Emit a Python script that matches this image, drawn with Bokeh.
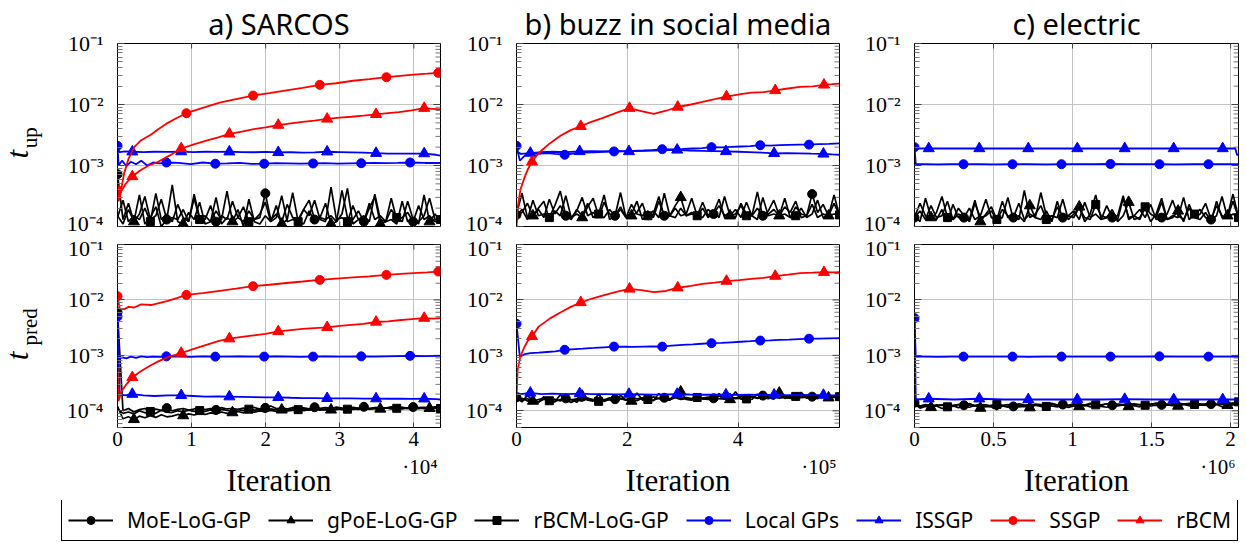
import numpy as np
from bokeh.plotting import figure
from bokeh.layouts import column, row
from bokeh.models import (FixedTicker, CustomJSTickFormatter, Label,
                          Legend, LegendItem, Range1d)
from bokeh.embed import file_html
from bokeh.resources import INLINE

# ------------------------------------------------------------------ data
# dataset sizes (x-axis range, iterations)
XMAX = [43600, 583000, 2050000]
TITLES = ["a) SARCOS", "b) buzz in social media", "c) electric"]
XTICKS = [[0, 10000, 20000, 30000, 40000], [0, 200000, 400000],
          [0, 500000, 1000000, 1500000, 2000000]]
XSCALE = [1e4, 1e5, 1e6]
XSCALE_LABEL = ["\u00b710\u2074", "\u00b710\u2075", "\u00b710\u2076"]
YTICKS = [1e-4, 1e-3, 1e-2, 1e-1]
XLABEL = "Iteration"
YLABEL_SUB = ["up", "pred"]

MS = 1e-3     # colored series listed in milliseconds
TMS = 1e-4    # black series listed in units of 0.1 ms

# ---------- a) SARCOS
ssgp_a_x = [0, 300, 900, 1500, 2250, 3200, 4500, 5600, 6800, 8000, 9300, 11500, 13800, 16000,
            18300, 20500, 22800, 25000, 27300, 29500, 31800, 34000, 36300, 38200, 40000, 41800,
            43300, 43600]
ssgp_a_up = [0.40, 0.30, 0.75, 1.30, 2.0, 2.6, 3.2, 4.0, 5.0, 6.0, 7.2, 8.8, 10.7, 12.2, 14.0,
             15.3, 17.0, 18.8, 21.0, 22.3, 24.5, 26.0, 28.0, 29.5, 31.0, 32.0, 33.0, 33.5]
ssgp_a_pred = [11.7, 7.0, 6.8, 7.5, 7.3, 8.3, 8.1, 8.8, 9.6, 10.8, 12.3, 13.3, 14.6, 16.0, 17.7,
               18.8, 20.2, 21.5, 23.0, 24.2, 25.5, 26.6, 28.3, 29.4, 30.5, 31.4, 32.5, 32.7]
ssgp_a_marks = [0, 10, 14, 18, 22, 26]

rbcm_a_x = [0, 150, 500, 1200, 2000, 3000, 4200, 5500, 7000, 8600, 10200, 12000, 13600, 15100,
            16800, 18400, 20000, 21700, 23400, 25000, 26600, 28300, 30000, 31600, 33200, 34900,
            36500, 38000, 39700, 41400, 42600, 43600]
rbcm_a_up = [0.35, 0.26, 0.38, 0.52, 0.66, 0.82, 1.0, 1.15, 1.45, 1.9, 2.2, 2.55, 2.9, 3.3, 3.6,
             3.95, 4.2, 4.6, 4.9, 5.2, 5.45, 5.8, 6.1, 6.3, 6.55, 6.9, 7.2, 7.5, 8.0, 8.7, 8.5, 8.3]
rbcm_a_pred = [0.6, 0.15, 0.22, 0.3, 0.4, 0.5, 0.63, 0.78, 0.95, 1.1, 1.3, 1.55, 1.8, 2.0, 2.15,
               2.3, 2.45, 2.7, 2.85, 3.0, 3.1, 3.2, 3.4, 3.55, 3.7, 4.0, 4.1, 4.3, 4.5, 4.7, 4.6, 4.7]
rbcm_a_marks = [4, 9, 13, 17, 21, 25, 29]

lgp_a_x = [0, 150, 600, 1200, 1800, 2500, 3200, 4000, 4800, 5700, 6600, 8200, 9900, 11500, 13200,
           14800, 16500, 18100, 19800, 21400, 23000, 24700, 26400, 28000, 29700, 31300, 32900,
           34600, 36200, 37800, 39500, 41500, 43600]
lgp_a_up = [2.1, 1.0, 1.2, 0.98, 1.15, 1.05, 1.2, 1.0, 1.12, 1.08, 1.12, 1.1, 1.05, 1.12, 1.07,
            1.08, 1.1, 1.06, 1.07, 1.09, 1.08, 1.07, 1.08, 1.09, 1.07, 1.08, 1.09, 1.1, 1.09, 1.1,
            1.12, 1.1, 1.1]
lgp_a_pred = [5.0, 0.85, 0.92, 0.88, 0.95, 0.9, 0.96, 0.93, 0.95, 0.94, 0.96, 0.95, 0.94, 0.96,
              0.95, 0.95, 0.96, 0.95, 0.95, 0.96, 0.95, 0.94, 0.95, 0.96, 0.95, 0.95, 0.96, 0.95,
              0.96, 0.97, 0.98, 0.97, 0.98]
lgp_a_marks = [0, 10, 14, 18, 22, 26, 30]

issgp_a_x = [0, 300, 1000, 2000, 3500, 5000, 6800, 8600, 10200, 11900, 13500, 15100, 16800, 18400,
             20100, 21700, 23400, 25000, 26600, 28300, 30000, 31600, 33200, 34900, 36500, 38200,
             39800, 41400, 43000, 43600]
issgp_a_up = [1.9, 1.65, 1.7, 1.68, 1.66, 1.68, 1.67, 1.69, 1.66, 1.68, 1.67, 1.68, 1.66, 1.65,
              1.67, 1.64, 1.65, 1.63, 1.64, 1.68, 1.66, 1.64, 1.62, 1.59, 1.57, 1.56, 1.57, 1.57,
              1.5, 1.45]
issgp_a_pred = [4.6, 0.2, 0.19, 0.2, 0.19, 0.185, 0.19, 0.19, 0.185, 0.18, 0.182, 0.18, 0.178,
                0.176, 0.175, 0.175, 0.172, 0.17, 0.17, 0.168, 0.168, 0.167, 0.166, 0.166, 0.165,
                0.165, 0.164, 0.165, 0.162, 0.16]
issgp_a_marks = [3, 7, 11, 15, 19, 23, 27]

moe_a_up = [7.2, 1.3, 2.4, 1.2, 1.6, 3.1, 1.3, 1.5, 2.8, 1.3,
            1.4, 1.3, 1.9, 1.2, 3.4, 1.4, 1.3, 2.2, 1.2, 1.5,
            1.3, 2.6, 1.4, 1.2, 1.8, 1.3, 1.4, 3.5, 1.3, 1.6,
            1.2, 2.3, 1.4, 1.3, 1.9, 2.7, 1.3, 1.4, 1.3, 1.5,
            1.2, 3.9, 1.4, 1.3, 1.8, 1.2, 2.4, 1.3, 1.5, 1.2,
            2.9, 1.3, 1.4, 1.7, 1.2, 2.2, 1.3, 1.5, 1.2, 1.3]
gpoe_a_up = [1.5, 1.1, 1.9, 1.2, 3.3, 1.1, 1.4, 2.1, 1.0, 1.3,
             4.8, 1.2, 1.1, 1.7, 1.3, 2.5, 1.1, 1.2, 3.0, 1.1,
             1.4, 1.2, 1.9, 1.0, 2.8, 1.2, 1.1, 1.5, 1.2, 2.2,
             1.1, 1.3, 3.6, 1.2, 1.1, 1.8, 1.2, 1.4, 2.4, 1.1,
             1.2, 1.6, 4.2, 1.1, 1.3, 1.2, 2.0, 3.1, 1.1, 1.2,
             1.3, 1.1, 2.6, 1.2, 1.4, 1.1, 3.3, 1.2, 1.6, 1.2]
rbcmlog_a_up = [1.4, 2.7, 1.2, 1.5, 1.3, 2.0, 1.2, 3.5, 1.3, 1.6,
                1.2, 2.3, 1.4, 1.2, 2.9, 1.3, 1.5, 1.2, 1.8, 1.3,
                3.8, 1.2, 1.4, 2.1, 1.2, 1.3, 1.6, 2.5, 1.2, 1.4,
                3.2, 1.2, 1.3, 1.2, 1.9, 1.5, 2.7, 1.3, 1.2, 4.4,
                1.3, 1.4, 1.2, 2.2, 1.3, 1.5, 1.2, 3.4, 1.3, 1.2,
                1.9, 1.4, 1.2, 2.6, 1.3, 1.2, 1.5, 2.9, 1.3, 1.3]
moe_a_pred = [60, 1.0, 1.1, 0.95, 1.05, 1.1, 0.98, 1.08, 1.02, 1.12,
              1.0, 1.06, 1.1, 1.03, 1.08, 1.12, 1.05, 1.1, 1.04, 1.14,
              1.08, 1.1, 1.06, 1.12, 1.09, 1.15, 1.07, 1.13, 1.22, 1.1,
              1.12, 1.08, 1.15, 1.1, 1.13, 1.09, 1.16, 1.11, 1.14, 1.1,
              1.17, 1.12, 1.1, 1.15, 1.12, 1.18, 1.11, 1.14, 1.16, 1.12,
              1.18, 1.13, 1.15, 1.12, 1.17, 1.14, 1.16, 1.13, 1.18, 1.15]
gpoe_a_pred = [1.2, 0.72, 0.78, 0.7, 0.8, 0.75, 0.82, 0.76, 0.85, 0.78,
               0.8, 0.86, 0.82, 0.88, 0.84, 0.9, 0.86, 0.92, 0.88, 0.95,
               0.9, 0.93, 0.97, 0.92, 0.98, 0.95, 1.0, 0.96, 1.02, 0.98,
               1.04, 1.0, 1.02, 1.06, 1.01, 1.05, 1.08, 1.03, 1.07, 1.04,
               1.09, 1.05, 1.1, 1.06, 1.08, 1.12, 1.07, 1.1, 1.08, 1.13,
               1.09, 1.11, 1.14, 1.1, 1.12, 1.09, 1.13, 1.11, 1.14, 1.12]
rbcmlog_a_pred = [1.1, 0.9, 0.95, 0.88, 1.0, 0.92, 0.97, 0.9, 1.02, 0.95,
                  0.93, 1.0, 0.96, 1.03, 0.98, 1.01, 0.97, 1.04, 1.0, 1.06,
                  1.02, 0.99, 1.05, 1.01, 1.07, 1.03, 1.05, 1.0, 1.08, 1.04,
                  1.06, 1.02, 1.09, 1.05, 1.07, 1.03, 1.1, 1.06, 1.04, 1.08,
                  1.05, 1.11, 1.07, 1.09, 1.06, 1.12, 1.08, 1.1, 1.07, 1.13,
                  1.09, 1.11, 1.08, 1.12, 1.1, 1.13, 1.09, 1.12, 1.1, 1.1]

# ---------- b) buzz in social media
rbcm_b_x = [0, 2000, 7000, 14000, 20000, 28000, 40000, 60000, 80000, 98000, 116000, 135000,
            155000, 180000, 204000, 225000, 248000, 270000, 291000, 315000, 336000, 358000,
            379000, 402000, 424000, 446000, 467000, 490000, 512000, 535000, 555000, 570000, 583000]
rbcm_b_up = [0.09, 0.2, 0.4, 0.62, 0.85, 1.15, 1.6, 2.3, 3.1, 3.8, 4.4, 5.2, 6.0, 7.3, 8.7, 7.8,
             7.0, 7.9, 9.1, 10.0, 11.0, 12.2, 13.5, 14.6, 15.6, 16.0, 17.0, 18.3, 19.5, 19.8,
             21.0, 21.5, 22.0]
rbcm_b_pred = [0.17, 0.55, 0.95, 1.4, 1.8, 2.2, 3.3, 4.6, 6.0, 7.5, 9.0, 10.5, 12.0, 14.0, 15.8,
               15.0, 13.8, 14.5, 16.6, 18.0, 19.5, 20.5, 21.9, 22.8, 24.0, 25.0, 26.9, 28.5, 30.5,
               31.0, 31.6, 31.5, 31.6]
rbcm_b_marks = [5, 10, 14, 18, 22, 26, 30]

lgp_b_x = [0, 6000, 15000, 25000, 40000, 55000, 70000, 87000, 105000, 120000, 140000, 158000,
           176000, 195000, 210000, 230000, 245000, 263000, 280000, 300000, 318000, 335000, 352000,
           370000, 388000, 405000, 422000, 440000, 458000, 475000, 492000, 510000, 528000, 546000,
           564000, 583000]
lgp_b_up = [2.1, 1.2, 1.45, 1.6, 1.55, 1.6, 1.55, 1.5, 1.58, 1.62, 1.65, 1.68, 1.7, 1.72, 1.74,
            1.76, 1.78, 1.85, 1.84, 1.87, 1.9, 1.93, 2.0, 1.98, 2.02, 2.05, 2.08, 2.15, 2.12, 2.16,
            2.18, 2.2, 2.2, 2.24, 2.26, 2.3]
lgp_b_pred = [3.7, 0.95, 1.05, 1.1, 1.12, 1.15, 1.18, 1.26, 1.3, 1.32, 1.36, 1.4, 1.44, 1.43,
              1.42, 1.44, 1.45, 1.44, 1.5, 1.55, 1.58, 1.62, 1.66, 1.68, 1.72, 1.76, 1.8, 1.85,
              1.86, 1.9, 1.92, 1.96, 2.0, 2.0, 2.03, 2.05]
lgp_b_marks = [0, 7, 12, 17, 22, 27, 32]

issgp_b_x = [0, 8000, 25000, 45000, 65000, 90000, 114000, 135000, 160000, 180000, 203000, 225000,
             248000, 270000, 290000, 312000, 335000, 356000, 378000, 400000, 420000, 443000,
             465000, 488000, 510000, 532000, 554000, 570000, 583000]
issgp_b_up = [1.7, 1.55, 1.6, 1.65, 1.68, 1.66, 1.7, 1.72, 1.7, 1.73, 1.7, 1.74, 1.76, 1.78, 1.8,
              1.76, 1.74, 1.72, 1.7, 1.68, 1.66, 1.62, 1.58, 1.6, 1.58, 1.56, 1.55, 1.52, 1.5]
issgp_b_pred = [0.21, 0.2, 0.21, 0.2, 0.205, 0.2, 0.205, 0.2, 0.2, 0.198, 0.2, 0.198, 0.196,
                0.198, 0.2, 0.197, 0.195, 0.196, 0.195, 0.194, 0.195, 0.193, 0.194, 0.192, 0.193,
                0.192, 0.192, 0.19, 0.19]
issgp_b_marks = [2, 6, 10, 14, 18, 22, 26]

moe_b_up = [1.55, 1.7, 2.4, 1.5, 1.9, 1.4, 2.8, 1.6, 2.2, 1.5,
            1.4, 1.8, 3.0, 1.5, 1.7, 1.4, 2.5, 1.6, 1.5, 1.9,
            1.4, 2.3, 1.6, 1.5, 1.8, 1.4, 2.6, 1.5, 1.5, 2.0,
            1.5, 1.6, 2.9, 1.5, 1.4, 1.9, 1.6, 2.2, 1.5, 1.7,
            1.4, 2.4, 1.6, 1.5, 2.0, 1.5, 1.8, 2.7, 1.5, 1.6,
            1.4, 2.1, 1.6, 1.5, 3.4, 1.7, 2.3, 1.5, 1.6, 1.6]
gpoe_b_up = [1.6, 3.5, 1.4, 1.5, 2.0, 2.6, 1.3, 1.8, 1.5, 3.2,
             1.4, 1.6, 1.4, 2.1, 2.9, 1.5, 1.4, 1.9, 1.5, 3.6,
             1.4, 1.5, 1.7, 2.4, 1.3, 1.6, 3.1, 1.4, 1.5, 2.2,
             3.0, 1.5, 1.6, 1.5, 2.0, 1.4, 1.7, 2.8, 1.4, 1.5,
             1.9, 1.4, 2.5, 1.5, 1.3, 3.0, 1.5, 1.6, 1.5, 2.1,
             1.7, 2.6, 1.4, 1.5, 2.3, 1.4, 1.6, 1.5, 3.3, 1.5]
rbcmlog_b_up = [1.5, 1.9, 1.3, 2.7, 1.5, 1.6, 1.4, 2.2, 3.8, 1.5,
                1.3, 1.9, 1.5, 2.4, 1.4, 1.6, 3.3, 1.3, 1.5, 2.1,
                1.4, 1.6, 2.6, 1.3, 1.5, 1.8, 1.4, 3.5, 1.5, 1.4,
                2.0, 1.5, 1.7, 1.5, 2.5, 1.5, 1.8, 1.4, 3.1, 1.5,
                1.6, 2.2, 1.5, 1.5, 3.7, 1.4, 1.6, 1.9, 1.5, 2.9,
                1.4, 1.5, 2.0, 1.4, 1.6, 2.7, 1.4, 1.5, 2.4, 1.55]
moe_b_pred = [1.75, 1.55, 1.65, 1.5, 1.6, 1.7, 1.55, 1.62, 1.5, 1.68,
              1.58, 1.64, 1.55, 1.7, 1.6, 1.66, 1.57, 1.72, 1.62, 1.68,
              1.6, 1.75, 1.64, 1.7, 1.62, 1.78, 1.66, 1.72, 1.64, 1.8,
              1.68, 1.74, 1.66, 1.82, 1.7, 1.76, 1.68, 1.85, 1.72, 1.78,
              1.7, 1.84, 1.74, 1.8, 1.72, 1.88, 1.76, 1.82, 1.74, 1.86,
              1.78, 1.84, 1.76, 1.9, 1.8, 1.85, 1.78, 1.88, 1.82, 1.8]
gpoe_b_pred = [1.7, 1.45, 1.9, 1.5, 1.4, 1.8, 1.55, 1.45, 1.95, 1.5,
               1.6, 1.42, 1.85, 1.55, 1.5, 2.0, 1.48, 1.62, 1.5, 1.9,
               1.55, 1.5, 2.1, 1.56, 1.65, 1.52, 2.05, 1.6, 1.55, 1.95,
               2.2, 1.6, 1.55, 1.98, 1.62, 1.7, 1.56, 2.05, 1.64, 1.6,
               2.2, 1.62, 1.7, 1.6, 2.0, 1.66, 1.75, 1.62, 2.1, 1.68,
               1.72, 1.65, 2.15, 1.7, 1.75, 1.66, 2.05, 1.72, 1.75, 1.75]
rbcmlog_b_pred = [1.6, 1.68, 1.5, 1.58, 1.45, 1.62, 1.52, 1.48, 1.6, 1.55,
                  1.42, 1.58, 1.5, 1.65, 1.55, 1.48, 1.6, 1.58, 1.5, 1.66,
                  1.56, 1.62, 1.52, 1.7, 1.6, 1.55, 1.68, 1.62, 1.58, 1.72,
                  1.6, 1.65, 1.58, 1.74, 1.64, 1.6, 1.7, 1.66, 1.62, 1.76,
                  1.66, 1.7, 1.64, 1.8, 1.68, 1.72, 1.66, 1.78, 1.7, 1.74,
                  1.68, 1.82, 1.72, 1.76, 1.7, 1.8, 1.74, 1.78, 1.76, 1.8]

# ---------- c) electric
lgp_c_x = [0, 8000, 60000, 150000, 230000, 310000, 400000, 500000, 620000, 720000, 830000,
           930000, 1030000, 1140000, 1240000, 1340000, 1450000, 1550000, 1650000, 1760000,
           1860000, 1960000, 2050000]
lgp_c_up = [2.0, 1.05, 1.05, 1.04, 1.05, 1.05, 1.05, 1.04, 1.05, 1.05, 1.04, 1.05, 1.05, 1.05,
            1.06, 1.05, 1.05, 1.05, 1.04, 1.05, 1.05, 1.05, 1.05]
lgp_c_pred = [4.7, 0.95, 0.95, 0.94, 0.95, 0.95, 0.95, 0.95, 0.95, 0.94, 0.95, 0.95, 0.95, 0.95,
              0.95, 0.95, 0.95, 0.96, 0.95, 0.95, 0.95, 0.95, 0.95]
lgp_c_marks = [0, 5, 8, 11, 14, 17, 20]

issgp_c_x = [0, 8000, 90000, 250000, 410000, 560000, 720000, 870000, 1030000, 1180000, 1330000,
             1490000, 1640000, 1800000, 1950000, 2030000, 2040000, 2050000]
issgp_c_up = [1.95, 1.9, 1.9, 1.9, 1.9, 1.9, 1.9, 1.9, 1.9, 1.9, 1.9, 1.9, 1.9, 1.9, 1.9, 1.9,
              1.5, 1.5]
issgp_c_pred = [4.7, 0.16, 0.165, 0.16, 0.165, 0.16, 0.16, 0.16, 0.16, 0.16, 0.162, 0.16, 0.16,
                0.16, 0.16, 0.16, 0.16, 0.16]
issgp_c_marks = [2, 4, 6, 8, 10, 12, 14]

moe_c_up = [1.4, 1.8, 1.3, 2.2, 1.4, 1.5, 2.6, 1.3, 1.6, 1.4,
            2.0, 1.3, 1.5, 2.8, 1.4, 1.3, 1.9, 1.5, 1.4, 2.4,
            1.3, 1.6, 1.4, 3.6, 1.5, 1.3, 2.1, 1.4, 1.5, 1.8,
            1.3, 2.5, 1.4, 1.6, 1.3, 2.2, 1.4, 1.5, 3.2, 1.3,
            1.5, 1.9, 1.4, 2.3, 1.3, 1.4, 1.6, 2.7, 1.5, 1.3,
            2.0, 1.4, 1.6, 2.4, 1.3, 1.5, 3.1, 1.4, 1.6, 1.4]
gpoe_c_up = [1.5, 1.2, 2.9, 1.4, 1.3, 1.9, 1.2, 2.3, 1.4, 1.5,
             1.3, 2.7, 1.2, 1.6, 2.1, 1.3, 1.4, 3.0, 1.3, 1.5,
             1.2, 2.2, 1.4, 1.3, 1.8, 1.2, 2.6, 1.3, 1.5, 1.4,
             2.1, 1.2, 1.6, 3.3, 1.3, 1.4, 1.9, 1.2, 1.5, 2.5,
             1.3, 1.4, 2.0, 1.2, 1.6, 2.9, 1.3, 1.4, 1.8, 1.2,
             2.3, 1.4, 1.3, 1.7, 1.2, 2.6, 1.4, 1.5, 3.4, 1.4]
rbcmlog_c_up = [1.4, 2.4, 1.5, 1.3, 1.7, 3.1, 1.4, 1.3, 2.0, 1.5,
                1.2, 2.4, 1.4, 1.5, 1.8, 1.3, 2.6, 1.4, 1.5, 1.3,
                3.9, 1.4, 1.6, 2.2, 1.3, 1.5, 1.4, 2.8, 1.3, 1.6,
                2.0, 1.4, 1.3, 2.3, 1.5, 1.4, 1.7, 1.3, 2.9, 1.4,
                1.5, 1.3, 2.1, 1.6, 1.4, 2.5, 1.3, 1.5, 1.4, 3.0,
                1.3, 1.6, 1.9, 1.4, 1.3, 2.2, 1.5, 1.4, 2.6, 1.4]
moe_c_pred = [1.4, 1.22, 1.3, 1.18, 1.28, 1.25, 1.32, 1.2, 1.3, 1.26,
              1.35, 1.22, 1.3, 1.28, 1.22, 1.32, 1.26, 1.3, 1.2, 1.34,
              1.28, 1.25, 1.32, 1.3, 1.24, 1.36, 1.28, 1.3, 1.26, 1.34,
              1.3, 1.27, 1.36, 1.3, 1.28, 1.34, 1.26, 1.32, 1.3, 1.38,
              1.3, 1.28, 1.34, 1.3, 1.36, 1.28, 1.32, 1.3, 1.38, 1.32,
              1.3, 1.36, 1.28, 1.34, 1.32, 1.3, 1.36, 1.32, 1.38, 1.35]
gpoe_c_pred = [1.35, 1.12, 1.2, 1.15, 1.22, 1.1, 1.18, 1.24, 1.14, 1.2,
               1.16, 1.25, 1.12, 1.2, 1.18, 1.05, 1.22, 1.16, 1.24, 1.18,
               1.2, 1.14, 1.26, 1.2, 1.16, 1.22, 1.18, 1.26, 1.15, 1.22,
               1.2, 1.28, 1.18, 1.24, 1.2, 1.16, 1.26, 1.22, 1.28, 1.2,
               1.24, 1.18, 1.3, 1.22, 1.26, 1.2, 1.28, 1.24, 1.22, 1.3,
               1.24, 1.2, 1.28, 1.26, 1.22, 1.3, 1.18, 1.26, 1.28, 1.3]
rbcmlog_c_pred = [1.3, 1.2, 1.25, 1.3, 1.22, 1.28, 1.18, 1.26, 1.3, 1.22,
                  1.28, 1.24, 1.32, 1.2, 1.26, 1.3, 1.24, 1.2, 1.3, 1.26,
                  1.22, 1.32, 1.26, 1.28, 1.2, 1.3, 1.25, 1.33, 1.24, 1.28,
                  1.3, 1.22, 1.32, 1.28, 1.25, 1.34, 1.26, 1.3, 1.28, 1.24,
                  1.34, 1.3, 1.26, 1.32, 1.36, 1.28, 1.3, 1.34, 1.26, 1.32,
                  1.36, 1.3, 1.34, 1.28, 1.36, 1.32, 1.3, 1.38, 1.35, 1.45]

N_BLACK = 60  # number of logged iterations shown for the LoG-GP variants
moe_marks = [0, 9, 18, 27, 36, 45, 54]
gpoe_marks = [3, 12, 21, 30, 39, 48, 57]
rbcmlog_marks = [6, 15, 24, 33, 42, 51, 59]

# ------------------------------------------------------------------ styles
SERIES = [("MoE-LoG-GP", "black", "circle"), ("gPoE-LoG-GP", "black", "triangle"),
          ("rBCM-LoG-GP", "black", "square"), ("Local GPs", "blue", "circle"),
          ("ISSGP", "blue", "triangle"), ("SSGP", "red", "circle"), ("rBCM", "red", "triangle")]
MSIZE = {"circle": 9, "triangle": 11, "square": 8}
SERIF = "Liberation Serif"
SANS = "Noto Sans"
MAJ_TICK_C, MIN_TICK_C = "#444444", "#777777"


def panel_data(col, top):
    bx = np.linspace(0, XMAX[col], N_BLACK)
    k = "up" if top else "pred"
    g = globals()
    s = "abc"[col]
    out = []
    for name, key in [("MoE-LoG-GP", "moe"), ("gPoE-LoG-GP", "gpoe"), ("rBCM-LoG-GP", "rbcmlog")]:
        out.append((name, bx, np.array(g[f"{key}_{s}_{k}"]) * TMS, g[f"{key}_marks"]))
    for name, key in [("Local GPs", "lgp"), ("ISSGP", "issgp"), ("SSGP", "ssgp"), ("rBCM", "rbcm")]:
        if f"{key}_{s}_x" in g:
            out.append((name, np.array(g[f"{key}_{s}_x"]), np.array(g[f"{key}_{s}_{k}"]) * MS,
                        g[f"{key}_{s}_marks"]))
    return out


YFMT = """
const e = Math.round(Math.log10(tick));
const m = {"-": "\u207b", "0": "\u2070", "1": "\u00b9", "2": "\u00b2", "3": "\u00b3",
           "4": "\u2074", "5": "\u2075", "6": "\u2076", "7": "\u2077", "8": "\u2078", "9": "\u2079"};
let s = "";
for (const c of String(e)) s += m[c];
return "10" + s;
"""
XFMT = "return String(Math.round(tick / s * 10) / 10);"

W = [393, 399, 399]
LB = [62, 68, 67]
TOP_H, BOT_H = 235, 220
FRAME_L = [117, 516, 914]
FRAME_R = [440, 839, 1238]
FRAME_H = 183


def mirror_ticks(p, col, top, ylo, yhi, minor):
    """pgfplots-style inner ticks on the right and top edges (mirrors of the axis ticks)."""
    xmax = XMAX[col]
    fw = FRAME_R[col] - FRAME_L[col]
    for ticks, ln, colr in ((YTICKS, 7, MAJ_TICK_C), (minor, 5, MIN_TICK_C)):
        ys = np.array(ticks, dtype=float)
        p.segment(x0=np.full(len(ys), xmax), x1=np.full(len(ys), xmax * (1 - ln / fw)),
                  y0=ys, y1=ys, line_color=colr, line_width=1)
    xs = np.array(XTICKS[col], dtype=float)
    f = 10 ** (5 * (np.log10(yhi) - np.log10(ylo)) / FRAME_H)
    p.segment(x0=xs, x1=xs, y0=np.full(len(xs), yhi), y1=np.full(len(xs), yhi / f),
              line_color=MAJ_TICK_C, line_width=1)
    if top:
        p.segment(x0=xs, x1=xs, y0=np.full(len(xs), ylo), y1=np.full(len(xs), ylo * f),
                  line_color=MAJ_TICK_C, line_width=1)


def make_panel(col, top):
    ylo, yhi = (1e-4 if top else 5e-5), 1e-1
    p = figure(width=W[col], height=TOP_H if top else BOT_H,
               x_range=Range1d(0, XMAX[col]), y_range=Range1d(ylo, yhi),
               y_axis_type="log", output_backend="svg", toolbar_location=None,
               min_border_left=LB[col], min_border_right=8,
               min_border_top=43 if top else 9, min_border_bottom=9 if top else 28,
               outline_line_color="black", outline_line_width=1,
               background_fill_color="white", border_fill_color="white")
    if top:
        p.title.text = TITLES[col]
        p.title.align = "center"
        p.title.text_font = SANS
        p.title.text_font_size = "29px"
        p.title.text_font_style = "normal"
        p.title.text_color = "black"
        p.title.standoff = 2

    xt = FixedTicker(ticks=XTICKS[col])
    minor = [m * 10.0 ** d for d in range(-5, -1) for m in range(2, 10) if m * 10.0 ** d >= ylo]
    yt = FixedTicker(ticks=YTICKS, minor_ticks=minor)

    xa = p.xaxis[0]
    xa.ticker = xt
    xa.formatter = CustomJSTickFormatter(args=dict(s=XSCALE[col]), code=XFMT)
    xa.major_tick_in = 5
    xa.major_tick_out = 0
    xa.minor_tick_in = 0
    xa.minor_tick_out = 0
    xa.axis_line_color = "black"
    xa.major_tick_line_color = MAJ_TICK_C
    xa.major_label_text_font = SERIF
    xa.major_label_text_font_size = "21px"
    xa.major_label_text_color = "black"
    xa.major_label_standoff = 4
    if top:
        xa.visible = False

    ya = p.yaxis[0]
    ya.ticker = yt
    ya.formatter = CustomJSTickFormatter(code=YFMT)
    ya.major_tick_in = 7
    ya.major_tick_out = 0
    ya.minor_tick_in = 5
    ya.minor_tick_out = 0
    ya.axis_line_color = "black"
    ya.major_tick_line_color = MAJ_TICK_C
    ya.minor_tick_line_color = MIN_TICK_C
    ya.major_label_text_font = SERIF
    ya.major_label_text_font_size = "22px"
    ya.major_label_text_color = "black"
    ya.major_label_standoff = 14

    p.xgrid.ticker = xt
    p.ygrid.ticker = yt
    p.grid.grid_line_color = "#c4c4c4"
    p.grid.grid_line_width = 1

    mirror_ticks(p, col, top, ylo, yhi, minor)

    style = {n: (c, m) for n, c, m in SERIES}
    for name, x, y, marks in panel_data(col, top):
        c, m = style[name]
        lw = 1.7 if c == "black" else 1.8
        p.line(x, y, line_color=c, line_width=lw)
        p.scatter(x[marks], y[marks], marker=m, size=MSIZE[m], fill_color=c, line_color=c)
    return p


def blank(width, height, xr, yr):
    f = figure(width=width, height=height, x_range=xr, y_range=yr, min_border=0,
               x_axis_location=None, y_axis_location=None, outline_line_color=None,
               toolbar_location=None, output_backend="svg",
               background_fill_color="white", border_fill_color="white")
    f.grid.visible = False
    return f


def ylabel_fig(top):
    h = TOP_H if top else BOT_H
    f = blank(55, h, Range1d(0, 55), Range1d(0, h))
    ty, sy = (93, 114) if top else (86, 121)
    sub = YLABEL_SUB[0] if top else YLABEL_SUB[1]
    f.add_layout(Label(x=17, y=ty, text="t", angle=np.pi / 2, text_align="center",
                       text_baseline="middle", text_font=SERIF, text_font_style="italic",
                       text_font_size="31px", text_color="black"))
    f.add_layout(Label(x=29, y=sy, text=sub, angle=np.pi / 2, text_align="center",
                       text_baseline="middle", text_font=SERIF, text_font_size="21px",
                       text_color="black"))
    return f


top_row = row(ylabel_fig(True), *[make_panel(c, True) for c in range(3)])
bot_row = row(ylabel_fig(False), *[make_panel(c, False) for c in range(3)])

# strip with the axis titles and the x-scale factors (pixel-like coordinates)
strip = blank(1246, 45, Range1d(0, 1246), Range1d(0, 45))
for c in range(3):
    strip.add_layout(Label(x=(FRAME_L[c] + FRAME_R[c]) / 2, y=20, text=XLABEL,
                           text_align="center", text_baseline="middle", text_font=SERIF,
                           text_font_size="31px", text_color="black"))
    strip.add_layout(Label(x=FRAME_R[c] - 3, y=34, text=XSCALE_LABEL[c], text_align="right",
                           text_baseline="middle", text_font=SERIF, text_font_size="21px",
                           text_color="black"))

# ------------------------------------------------------------------ legend
lg = blank(1246, 43, Range1d(0, 1), Range1d(0, 1))
items = []
for name, c, m in SERIES:
    r1 = lg.line(x=[np.nan], y=[np.nan], line_color=c, line_width=1.8)
    r2 = lg.scatter(x=[np.nan], y=[np.nan], marker=m, size=MSIZE[m] - 2, fill_color=c,
                    line_color=c)
    items.append(LegendItem(label=name, renderers=[r1, r2]))
legend = Legend(items=items, orientation="horizontal", location=(61, 2),
                glyph_width=45, glyph_height=20, label_standoff=14, spacing=17,
                padding=6, margin=0, label_text_font=SANS, label_text_font_size="21px",
                label_text_color="black",
                border_line_color="black", border_line_width=1, border_line_alpha=1,
                background_fill_color="white", background_fill_alpha=1)
lg.add_layout(legend)

layout = column(top_row, bot_row, strip, lg)
open("out.html", "w", encoding="utf-8").write(file_html(layout, INLINE, "timing"))
